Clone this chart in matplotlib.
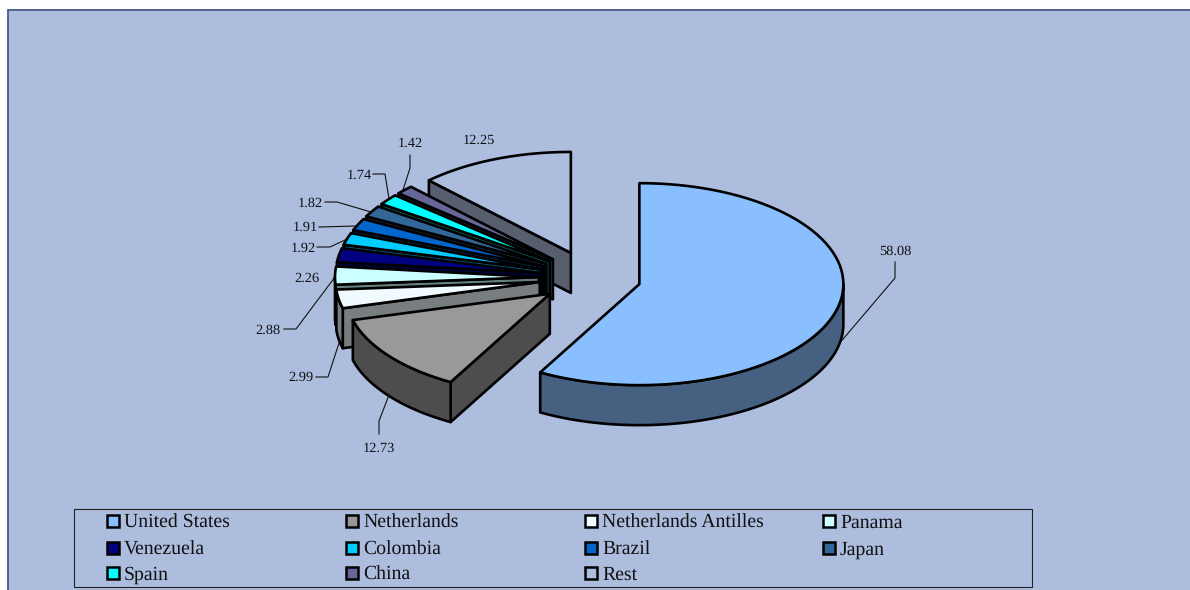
#Exploded 3D style pie of country shares, drawn as polygons since matplotlib has no 3D pie

import numpy as np
import matplotlib
matplotlib.use('Agg')
import matplotlib.pyplot as plt
from matplotlib.patches import Polygon, Rectangle

countries = ['United States', 'Netherlands', 'Netherlands Antilles', 'Panama', 'Venezuela',
             'Colombia', 'Brazil', 'Japan', 'Spain', 'China', 'Rest']
shares = [58.08, 12.73, 2.99, 2.88, 2.26, 1.92, 1.91, 1.82, 1.74, 1.42, 12.25]
share_labels = ['58.08', '12.73', '2.99', '2.88', '2.26', '1.92', '1.91', '1.82', '1.74', '1.42', '12.25']
colors = ['#8ABFFF', '#999999', '#F0FAFF', '#CCFFFF', '#000080', '#00CCFF', '#0066CC',
          '#336699', '#00FFFF', '#666699', '#ADBDDE']

BG = '#ADBDDE'
#pie geometry in pixels
cx, cy = 590, 277.5
rx, ry = 204, 101
depth = 40
ex, ey = 51, 26.5     #explosion distance

#label centre and leader line (pixels), same order as countries
label_xy = [(895, 251), (379, 448), (301, 377), (268, 330), (307, 278), (303, 248),
            (305, 227), (310, 203), (359, 175), (410, 143), (479, 140)]
leaders = [[(895, 262), (895, 278), (838, 345)],
           [(379, 434), (379, 421), (389, 395)],
           [(316, 377), (328, 377), (340, 340)],
           [(284, 329), (296, 329), (335, 277)],
           None,
           [(317, 247), (330, 247), (345, 240)],
           [(319, 227), (356, 226)],
           [(325, 202), (337, 202), (371, 212)],
           [(373, 174), (385, 174), (389, 199)],
           [(410, 155), (410, 168), (403, 190)],
           None]

def shade(c):
    #side faces are the top colour at half brightness
    return tuple(v * 0.5 for v in matplotlib.colors.to_rgb(c))

def arc(ax0, ay0, a0, a1):
    #points on the ellipse, angles clockwise from 12 o'clock
    th = np.radians(np.linspace(a0, a1, 80))
    return np.column_stack((ax0 + rx * np.sin(th), ay0 - ry * np.cos(th)))

def add_poly(ax, pts, color):
    ax.add_patch(Polygon(pts, closed=True, facecolor=color, edgecolor='black', linewidth=1.9, joinstyle='round'))

def draw_slice(ax, a0, a1, color):
    mid = np.radians((a0 + a1) / 2)
    ax0 = cx + ex * np.sin(mid)
    ay0 = cy - ey * np.cos(mid)
    side = shade(color)
    down = np.array([0, depth])
    apex = np.array([ax0, ay0])
    #radial walls, only the ones turned to the viewer
    if np.sin(np.radians(a0)) < -1e-6:
        p = arc(ax0, ay0, a0, a0)[0]
        add_poly(ax, [apex, p, p + down, apex + down], side)
    if np.sin(np.radians(a1)) > 1e-6:
        p = arc(ax0, ay0, a1, a1)[0]
        add_poly(ax, [apex, p, p + down, apex + down], side)
    #outer rim, only the part that faces the viewer
    lo, hi = max(a0, 90), min(a1, 270)
    if hi > lo:
        top = arc(ax0, ay0, lo, hi)
        add_poly(ax, np.vstack((top, (top + down)[::-1])), side)
    add_poly(ax, np.vstack((apex, arc(ax0, ay0, a0, a1))), color)

plt.rcParams['font.family'] = ['Liberation Serif', 'DejaVu Serif']
plt.rcParams['text.hinting'] = 'none'
fig = plt.figure(figsize=(11.9, 5.9), dpi=100, facecolor='white')
ax = fig.add_axes([0, 0, 1, 1])
ax.set_xlim(0, 1190)
ax.set_ylim(590, 0)
ax.axis('off')

#panel
ax.add_patch(Rectangle((8, 10), 1200, 600, facecolor=BG, edgecolor='#46598A', linewidth=1.3))

#slice angles
edges = np.concatenate(([0], np.cumsum(shares))) * 3.6
#back to front so nearer slices paint over the ones behind
order = [10, 9, 8, 7, 6, 5, 4, 3, 2, 1, 0]
for i in order:
    draw_slice(ax, edges[i], edges[i + 1], colors[i])

#data labels
for i in range(len(shares)):
    ax.text(label_xy[i][0], label_xy[i][1], share_labels[i], fontsize=10.4, color='#111111', ha='center', va='center')
    if leaders[i] is not None:
        xs, ys = zip(*leaders[i])
        ax.plot(xs, ys, color='#111111', linewidth=0.8)

#legend box, filled row by row with fixed columns
ax.add_patch(Rectangle((74, 508.5), 957.5, 78.5, facecolor='none', edgecolor='#222222', linewidth=0.8))
col_x = [106, 345, 584, 822]
row_y = [522, 549, 574]
for i in range(len(countries)):
    x = col_x[i % 4]
    y = row_y[i // 4]
    ax.add_patch(Rectangle((x + 1, y - 7), 12, 12, facecolor=colors[i], edgecolor='black', linewidth=1.8))
    ax.text(x + 18, y + 6, countries[i], fontsize=14.2, color='#111111', ha='left', va='baseline')

fig.savefig('out.png', dpi=100, facecolor='white')
plt.close()
